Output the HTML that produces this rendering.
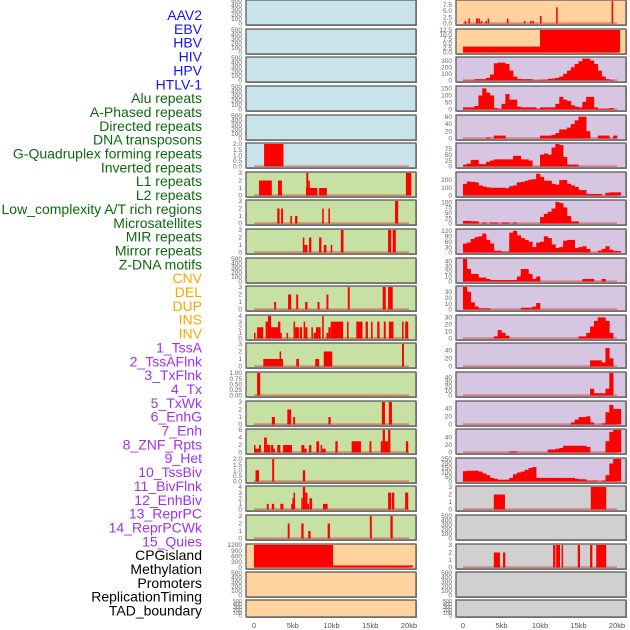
<!DOCTYPE html>
<html><head><meta charset="utf-8"><style>
html,body{margin:0;padding:0;background:#fff;}
svg{display:block;font-family:"Liberation Sans",sans-serif;}
</style></head><body>
<svg id="chart" width="630" height="630" viewBox="0 0 630 630"></svg>
<script>
const NS="http://www.w3.org/2000/svg";
// ---- data ----
const trackLabels=["AAV2","EBV","HBV","HIV","HPV","HTLV-1","Alu repeats","A-Phased repeats","Directed repeats","DNA transposons","G-Quadruplex forming repeats","Inverted repeats","L1 repeats","L2 repeats","Low_complexity A/T rich regions","Microsatellites","MIR repeats","Mirror repeats","Z-DNA motifs","CNV","DEL","DUP","INS","INV","1_TssA","2_TssAFlnk","3_TxFlnk","4_Tx","5_TxWk","6_EnhG","7_Enh","8_ZNF_Rpts","9_Het","10_TssBiv","11_BivFlnk","12_EnhBiv","13_ReprPC","14_ReprPCWk","15_Quies","CPGisland","Methylation","Promoters","ReplicationTiming","TAD_boundary"];
const labelGroups=["v","v","v","v","v","v","r","r","r","r","r","r","r","r","r","r","r","r","r","c","c","c","c","c","s","s","s","s","s","s","s","s","s","s","s","s","s","s","s","o","o","o","o","o"];
const xTickValues=[0,5,10,15,20];
const xTickLabels=["0","5kb","10kb","15kb","20kb"];
const t500=[0,100,200,300,400,500];
const t3=[0,1,2,3];
// left column: segments [startKb,endKb,value]
const leftYMax=[500,500,500,500,500,2,3,3,3,500,3,4,3,1,3,6,2,4,3,1200,500,500];
const leftTicks=[t500,t500,t500,t500,t500,[0,0.5,1,1.5,2],t3,t3,t3,t500,t3,[0,1,2,3,4],t3,[0,0.25,0.5,0.75,1],t3,[0,2,4,6],[0,0.5,1,1.5,2],[0,1,2,3,4],t3,[0,300,600,900,1200],t500,t500];
const leftSegs=[[],[],[],[],[],
[[1.3,3.8,2]],
[[0.65,2.3,2],[3.1,3.6,2],[6.7,8.2,1],[6.75,7.0,3],[7.0,7.2,2],[8.4,9.4,1],[19.6,20.3,3]],
[[3.0,3.3,2],[3.5,3.75,2],[4.7,4.9,1],[5.3,5.6,1],[8.8,9.0,2],[9.6,9.8,2],[18.2,18.6,3]],
[[6.3,6.5,2],[6.5,6.9,1],[7.1,7.4,2],[8.4,8.7,2],[9.0,9.35,1],[9.9,10.1,1],[11.2,11.55,3],[17.3,17.7,3],[17.9,18.3,3]],
[],
[[2.6,2.85,1],[4.4,4.8,2],[5.45,5.7,2],[6.6,6.9,1],[8.2,8.45,1],[9.35,9.6,2],[12.1,12.35,3],[16.6,17.0,3],[17.3,17.9,3]],
[[0,0.2,1],[0.4,1.2,2],[1.5,1.8,3],[1.8,2.2,4],[2.2,3.1,2],[3.1,3.4,3],[3.4,3.6,1],[4.2,4.4,1],[5.1,5.3,3],[5.3,5.8,2],[5.9,6.2,2],[6.4,6.6,3],[6.6,6.9,2],[7.4,7.6,2],[7.7,8.0,1],[8.0,8.6,2],[8.8,9.0,4],[9.35,9.6,1],[9.6,9.9,2],[9.9,11.5,3],[12.0,12.2,3],[13.2,14.0,3],[14.4,14.7,3],[15.1,15.3,3],[15.9,16.2,3],[16.75,17.0,3],[17.4,18.0,3],[19.1,19.3,3],[19.5,19.9,3]],
[[1.2,3.75,1],[3.3,3.5,2],[5.45,5.8,1],[7.9,8.4,1],[9.0,10.1,2],[19.1,19.35,3]],
[[0.4,0.8,1]],
[[2.3,2.7,1],[4.3,4.8,2],[5.05,5.3,1],[9.6,9.9,1],[16.5,16.9,3],[17.4,17.8,3]],
[[0,0.15,2],[0.15,0.65,1],[0.65,0.9,2],[1.3,1.65,4],[1.65,2.1,2],[2.2,2.5,2],[2.5,2.7,1],[3.0,3.4,2],[3.75,4.9,2],[6.1,6.5,2],[6.5,6.8,1],[7.1,7.4,2],[8.05,8.4,3],[8.6,8.8,2],[8.8,9.25,1],[10.5,10.8,3],[12.6,13.8,3],[14.9,15.15,3],[16.35,16.6,3],[16.6,16.9,6],[16.9,17.3,3],[17.3,17.6,6],[19.6,19.9,3]],
[[0.2,0.65,1],[2.35,2.6,2],[6.3,6.6,1]],
[[1.65,1.9,1],[2.3,2.6,1],[3.4,3.8,1],[4.8,4.95,1],[4.95,5.1,2],[5.1,5.3,3],[6.1,6.3,2],[6.3,6.6,4],[6.6,6.9,3],[6.9,7.0,1],[7.15,7.5,2],[8.9,9.5,1],[17.3,17.7,3],[17.8,18.1,3],[19.5,19.9,3]],
[[4.35,4.6,2],[6.1,6.4,2],[7.0,7.3,1],[9.5,9.8,2],[14.95,15.2,3],[17.6,17.9,3]],
[[0,10.2,1200],[10.2,20.5,110]],
[],[]];
// right column: rows 0,1,17-21 segments; rows 2-16 binned profiles (0.5kb bins)
const rightYMax=[9,12.5,340,160,62,95,290,105,125,45,38,32,55,50,55,60,250,3,500,3,500,500];
const rightTicks=[[0,2.5,5,7.5],[0,2.5,5,7.5,10,12.5],[0,100,200,300],[0,50,100,150],[0,20,40,60],[0,25,50,75],[0,100,200],[0,25,50,75,100],[0,30,60,90,120],[0,10,20,30,40],[0,10,20,30],[0,10,20,30],[0,20,40],[0,10,20,30,40],[0,20,40],[0,20,40],[0,50,100,150,200,250],t3,t500,t3,t500,t500];
const rightSegs={
0:[[0.2,0.4,1],[0.7,0.9,2],[1.7,1.95,2],[2.0,2.2,2],[2.3,2.4,1],[2.9,3.1,1],[3.2,3.4,2],[5.7,5.9,2],[7.9,8.1,1],[8.7,8.9,1],[9.0,9.2,1],[10.0,10.2,3],[12.1,12.3,6.5],[19.3,19.5,9]],
1:[[0,10.0,3.3],[10.0,20.4,12.5]],
17:[[4.0,5.45,2],[16.6,18.6,3]],
18:[],
19:[[4.0,4.8,2],[5.2,5.5,2],[11.7,12.0,3],[12.1,12.6,3],[12.8,13.0,3],[14.9,15.2,3],[16.5,16.8,3],[17.3,18.6,3]],
20:[],21:[]};
const rightBins={
2:[5,5,5,20,20,20,40,90,260,270,270,250,150,60,25,20,20,20,5,5,10,10,25,30,40,60,100,150,200,250,290,330,330,300,250,150,60,20,10,0,0],
3:[15,15,15,25,100,150,120,100,10,5,40,110,70,70,20,15,15,15,15,5,15,15,15,15,40,90,70,60,30,20,15,55,90,90,15,5,5,5,10,0,0],
4:[0,0,0,0,0,0,3,0,8,8,8,0,0,0,0,0,0,0,0,0,8,8,8,10,15,25,25,30,40,50,60,60,20,0,0,8,8,8,0,8,0],
5:[8,12,28,28,10,10,20,25,30,30,30,30,30,45,45,30,30,25,0,0,50,55,50,80,95,90,40,8,8,8,0,0,0,0,0,0,0,0,0,0,0],
6:[150,180,175,170,130,115,105,100,100,100,100,95,120,130,170,175,190,205,210,280,240,190,190,150,140,200,200,150,130,110,70,70,20,20,20,20,0,35,40,40,40],
7:[12,12,10,10,0,5,0,5,5,0,5,5,0,5,0,0,0,0,0,0,30,45,55,70,100,95,75,35,10,10,0,0,0,0,0,0,0,0,0,0,0],
8:[50,55,75,85,90,105,70,50,10,10,5,5,110,120,95,80,70,60,30,55,60,90,80,45,25,30,65,70,70,25,30,35,20,0,0,10,20,35,15,8,8],
9:[45,25,15,15,8,8,5,3,3,3,3,3,3,3,10,25,25,15,5,10,0,0,0,0,0,0,0,0,0,0,0,5,5,5,0,0,5,0,0,0,0],
10:[38,30,12,5,2,2,2,0,0,0,0,0,0,0,0,3,3,3,5,11,0,0,0,0,0,0,0,0,0,0,0,0,0,0,0,0,0,0,0,0,0],
11:[0,0,0,0,0,0,0,0,3,12,8,4,0,0,0,0,0,0,0,0,0,0,0,0,0,0,0,0,0,0,3,3,8,17,25,30,30,25,8,0,0],
12:[0,0,0,0,0,0,0,0,0,0,0,0,0,0,0,0,0,0,0,0,0,0,0,0,0,0,0,0,0,0,0,0,0,15,15,15,10,45,20,0,0],
13:[0,0,0,0,0,0,0,0,0,0,0,0,0,0,0,0,0,0,0,0,0,0,0,0,0,0,0,0,0,0,0,0,0,15,5,5,5,15,50,0,0],
14:[0,0,0,0,0,0,0,0,0,0,0,0,0,0,0,0,0,0,0,0,0,0,0,0,0,0,0,0,5,12,18,18,20,5,0,0,3,30,48,38,38],
15:[0,0,0,0,0,0,0,0,0,0,0,0,3,3,0,0,0,0,0,0,0,0,8,8,10,12,18,18,18,18,18,18,15,0,0,0,0,30,55,60,60],
16:[115,120,120,120,110,90,70,40,30,20,20,20,40,80,100,110,130,150,160,40,40,40,40,40,40,40,40,40,40,30,25,25,10,10,10,0,10,70,200,250,250]};
const binWidthKb=0.5;
// ---- layout ----
const rowTop=[0,29,57,86,115,143,172,200,229,258,286,315,343,372,401,429,458,486,515,544,572,600];
const rowH=i=>i===21?17:25;
const leftBg=i=>i<=5?"#c9e3eb":(i<=18?"#c7e0a3":"#ffd29e");
const rightBg=i=>i<=1?"#ffd29e":(i<=16?"#d6c6e1":"#d0d0d0");
const col={left:{x0:246,x1:416,k0:254,k20:409},right:{x0:456,x1:626,k0:463,k20:617}};
const groupColor={v:"#1515f0",r:"#0b6b0b",c:"#ffa500",s:"#a030f0",o:"#000"};
const svg=document.getElementById("chart");
function mk(tag,attrs,parent){const e=document.createElementNS(NS,tag);for(const k in attrs)e.setAttribute(k,attrs[k]);(parent||svg).appendChild(e);return e;}
// labels
trackLabels.forEach((t,i)=>{
  const el=mk("text",{x:202,y:20+i*13.85,"text-anchor":"end","font-size":"14",fill:groupColor[labelGroups[i]]});
  el.textContent=t;
  
  
});
function xScale(c,kb){return c.k0+(c.k20-c.k0)*kb/20;}
function drawPanel(side,i,ymax,ticks,segs,bins){
  const c=col[side];const top=rowTop[i],h=rowH(i),bot=top+h;
  const g=mk("g",{});
  
  
  const bg=mk("rect",{x:c.x0+1,y:top+1,width:c.x1-c.x0,height:h,fill:"#9a9a9a"},g);
  
  
  const r=mk("rect",{x:c.x0,y:top,width:c.x1-c.x0,height:h,fill:side==="left"?leftBg(i):rightBg(i),stroke:"#5a5a5a","stroke-width":1.3},g);
  
  
  const y0=bot-1.5,yTop=top+1;
  const ys=v=>y0-(y0-yTop)*Math.min(v,ymax)/ymax;
  ticks.forEach(t=>{
    const tx=mk("text",{x:c.x0-4,y:ys(t)+2.2,"text-anchor":"end","font-size":h<20?"5.5":"6.5",fill:"#666"},g);
    tx.textContent=String(t===0&&ymax<=12.5&&ticks.some(v=>v%1)?"0.0":t);
    if(ticks.some(v=>v%1)&&t!==0){tx.textContent=(ymax===1?t.toFixed(2):t.toFixed(1));}
    if(ymax===1&&t===0)tx.textContent="0.00";
    
    
  });
  const hasData=(segs&&segs.length)||(bins&&bins.some(v=>v>0));
  if(hasData){
    const bl=mk("rect",{x:xScale(c,0),y:y0-1.2,width:xScale(c,20)-xScale(c,0),height:1.8,fill:"rgba(220,40,40,0.45)"},g);
    
    
  }
  if(segs)segs.forEach(s=>{
    const x=xScale(c,s[0]),w=Math.max(1.5,xScale(c,s[1])-x);
    const b=mk("rect",{x:x,y:ys(s[2]),width:w,height:y0-ys(s[2]),fill:"#ff0000"},g);
    
    
  });
  if(bins)bins.forEach((v,k)=>{
    if(v<=0)return;
    const x=xScale(c,k*binWidthKb),w=xScale(c,(k+1)*binWidthKb)-x+0.3;
    const b=mk("rect",{x:x,y:ys(v),width:w,height:y0-ys(v),fill:"#ff0000"},g);
    
    
  });
}
for(let i=0;i<22;i++){
  drawPanel("left",i,leftYMax[i],leftTicks[i],leftSegs[i],null);
  drawPanel("right",i,rightYMax[i],rightTicks[i],rightSegs[i]||null,rightBins[i]||null);
}
["left","right"].forEach(side=>{
  const c=col[side];
  xTickValues.forEach((v,k)=>{
    const t=mk("text",{x:xScale(c,v),y:628,"text-anchor":"middle","font-size":"7.5",fill:"#555"});
    t.textContent=xTickLabels[k];
    
    
  });
});
</script>
</body></html>
